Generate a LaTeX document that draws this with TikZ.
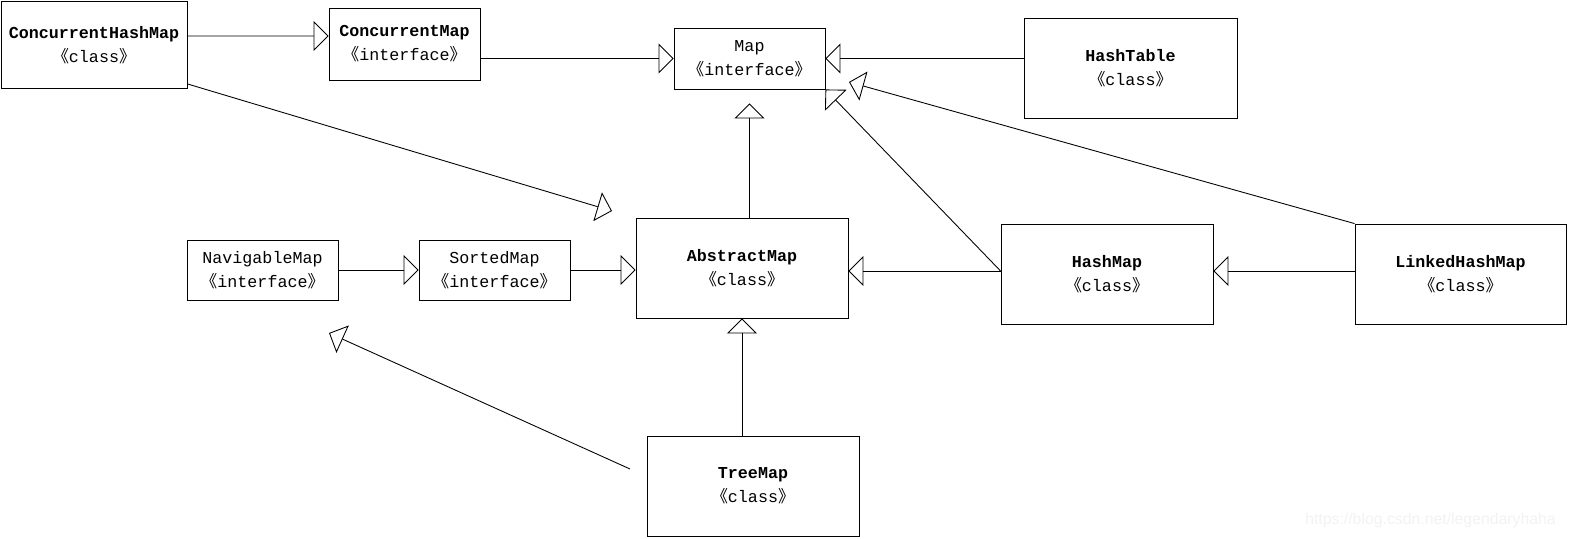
\documentclass[tikz,border=0pt]{standalone}
\usepackage{fontspec}
\setmainfont{Liberation Serif}
\setmonofont{Liberation Mono}
\newfontfamily\cjk{Noto Sans CJK SC}
\newfontfamily\wmfont{Liberation Sans}
\usetikzlibrary{arrows.meta}
\newcommand{\stereo}[1]{{\cjk 《}#1{\cjk 》}}
\tikzset{
    umlbox/.style={draw, line width=0.5pt, align=center, inner sep=0pt,
        font=\ttfamily\fontsize{9.5}{13.6}\selectfont},
    inh/.style={-{Triangle[open,length=0.3cm,width=0.6cm]}, line width=0.5pt},
}

\begin{document}
\begin{tikzpicture}[x=0.02cm, y=-0.02cm]
                    \useasboundingbox (0,0) rectangle (1570,538);
                    \node[umlbox, minimum width=3.72cm, minimum height=1.74cm] (chm) at (94,45)
                        {\textbf{ConcurrentHashMap}\\\stereo{class}};
                    \node[umlbox, minimum width=3.02cm, minimum height=1.44cm] (cmap) at (404.5,44)
                        {\textbf{ConcurrentMap}\\\stereo{interface}};
                    \node[umlbox, minimum width=3.02cm, minimum height=1.22cm] (map) at (749.5,58.5)
                        {Map\\\stereo{interface}};
                    \node[umlbox, minimum width=4.26cm, minimum height=2cm] (htab) at (1130.5,68)
                        {\textbf{HashTable}\\\stereo{class}};
                    \node[umlbox, minimum width=3.02cm, minimum height=1.2cm] (nav) at (262.5,270)
                        {NavigableMap\\\stereo{interface}};
                    \node[umlbox, minimum width=3.02cm, minimum height=1.2cm] (sorted) at (494.5,270)
                        {SortedMap\\\stereo{interface}};
                    \node[umlbox, minimum width=4.24cm, minimum height=2cm] (amap) at (742,268)
                        {\textbf{AbstractMap}\\\stereo{class}};
                    \node[umlbox, minimum width=4.24cm, minimum height=2cm] (hmap) at (1107,274)
                        {\textbf{HashMap}\\\stereo{class}};
                    \node[umlbox, minimum width=4.22cm, minimum height=2cm] (lhm) at (1460.5,274)
                        {\textbf{LinkedHashMap}\\\stereo{class}};
                    \node[umlbox, minimum width=4.24cm, minimum height=2cm] (tmap) at (753,486)
                        {\textbf{TreeMap}\\\stereo{class}};
                    \node[font=\wmfont\fontsize{9}{10}\selectfont, text=gray!10, anchor=east] (wm) at (1562,520)
                        {https://blog.csdn.net/legendaryhaha};

                    \coordinate (chmtip) at (612,211);
                    \coordinate (lhmtip) at (849,82);
                    \coordinate (tmtail) at (630,469);
                    \coordinate (tmtip) at (329,333);
                    \coordinate (hml) at ([yshift=.06cm]hmap.west);

                    \draw[inh] ([yshift=.18cm]chm.east) -- ([yshift=.16cm]cmap.west);
                    \draw[inh] (cmap.east |- map.west) -- (map.west);
                    \draw[inh] (htab.west |- map.east) -- (map.east);
                    \draw[inh, shorten >=0.28cm] (amap.north -| map.south) -- (map.south);
                    \draw[inh] ([yshift=.1cm]chm.south east) -- (chmtip);
                    \draw[inh] (nav.east) -- (sorted.west);
                    \draw[inh] (sorted.east) -- (sorted.east -| amap.west);
                    \draw[inh] (hml) -- (hml -| amap.east);
                    \draw[inh] (hml) -- (map.south east);
                    \draw[inh] (lhm.west |- hml) -- (hml -| hmap.east);
                    \draw[inh] (lhm.north west) -- (lhmtip);
                    \draw[inh] (tmap.north -| amap.south) -- (amap.south);
                    \draw[inh] (tmtail) -- (tmtip);
                \end{tikzpicture}
\end{document}
